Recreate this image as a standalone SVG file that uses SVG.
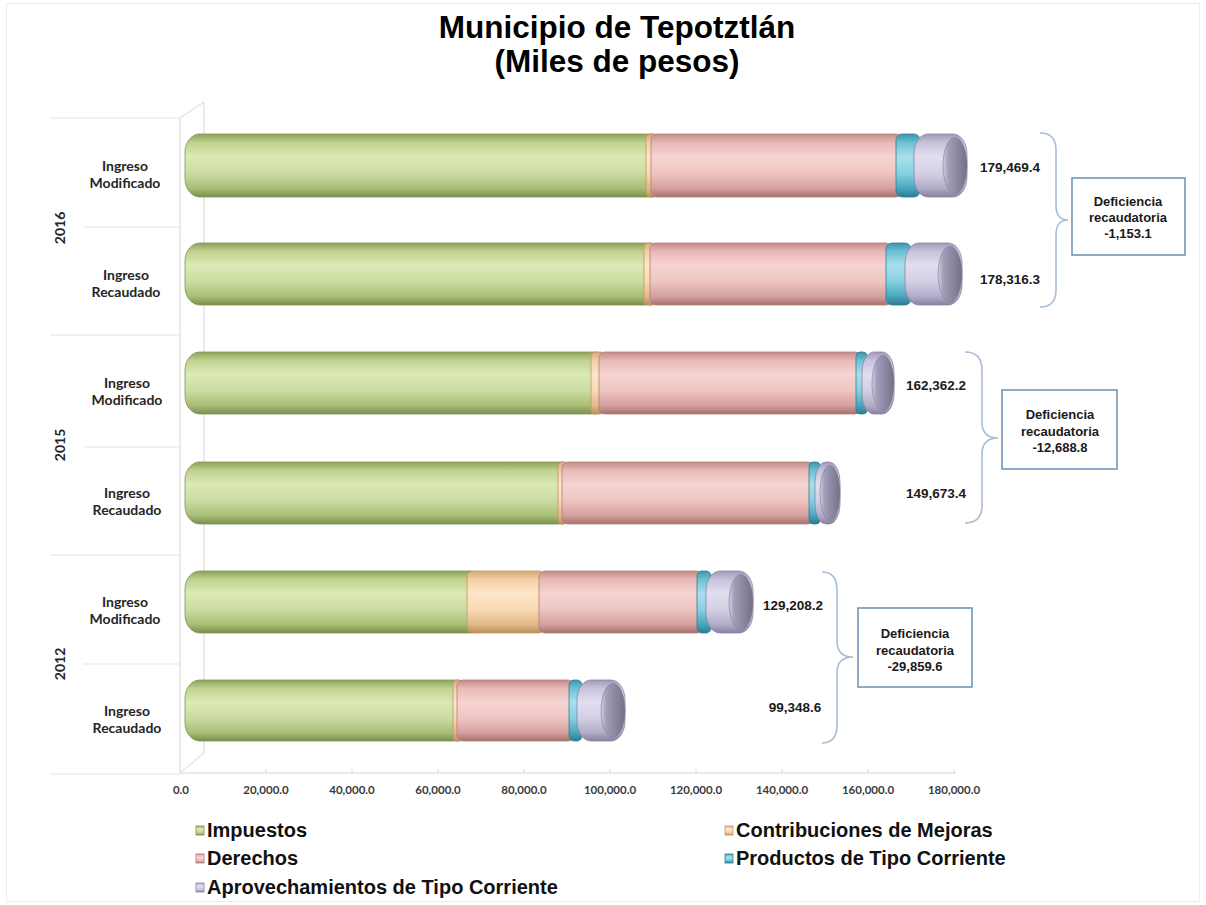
<svg xmlns="http://www.w3.org/2000/svg" width="1206" height="905" viewBox="0 0 1206 905">
<defs>
<linearGradient id="gGreen" x1="0" y1="0" x2="0" y2="1">
<stop offset="0" stop-color="#8ea25c"/><stop offset="0.14" stop-color="#c0d390"/><stop offset="0.36" stop-color="#dce9b6"/><stop offset="0.62" stop-color="#cbdca1"/><stop offset="0.86" stop-color="#a9be77"/><stop offset="1" stop-color="#7a8f4e"/>
</linearGradient>
<linearGradient id="gTan" x1="0" y1="0" x2="0" y2="1">
<stop offset="0" stop-color="#d3a875"/><stop offset="0.14" stop-color="#f3d0a5"/><stop offset="0.36" stop-color="#fde6c8"/><stop offset="0.62" stop-color="#f8d9b3"/><stop offset="0.86" stop-color="#e2b988"/><stop offset="1" stop-color="#bb8f5c"/>
</linearGradient>
<linearGradient id="gPink" x1="0" y1="0" x2="0" y2="1">
<stop offset="0" stop-color="#c28d8a"/><stop offset="0.14" stop-color="#e8b9b6"/><stop offset="0.36" stop-color="#f6d4d2"/><stop offset="0.62" stop-color="#efc5c2"/><stop offset="0.86" stop-color="#d5a19e"/><stop offset="1" stop-color="#a6706e"/>
</linearGradient>
<linearGradient id="gCyan" x1="0" y1="0" x2="0" y2="1">
<stop offset="0" stop-color="#3b96ae"/><stop offset="0.14" stop-color="#6fc0d5"/><stop offset="0.36" stop-color="#a9e0ec"/><stop offset="0.62" stop-color="#88d0e1"/><stop offset="0.86" stop-color="#4aa6bf"/><stop offset="1" stop-color="#2d7b91"/>
</linearGradient>
<linearGradient id="gLav" x1="0" y1="0" x2="0" y2="1">
<stop offset="0" stop-color="#a09ab8"/><stop offset="0.14" stop-color="#c8c2db"/><stop offset="0.36" stop-color="#e2def0"/><stop offset="0.62" stop-color="#d4cfe5"/><stop offset="0.86" stop-color="#b3acc8"/><stop offset="1" stop-color="#88829f"/>
</linearGradient>
<linearGradient id="gFace" x1="0" y1="0" x2="1" y2="0">
<stop offset="0" stop-color="#d2cee3"/><stop offset="0.22" stop-color="#a29db8"/><stop offset="1" stop-color="#747089"/>
</linearGradient>
<style>
.seg{stroke-width:0.8}
.green{fill:url(#gGreen);stroke:#7f944f}
.tan{fill:url(#gTan);stroke:#c29666}
.pink{fill:url(#gPink);stroke:#b07d7a}
.cyan{fill:url(#gCyan);stroke:#2f7f95}
.lav{fill:url(#gLav);stroke:#8a84a2}
.face{fill:url(#gFace);stroke:#7d7894;stroke-width:0.6}
.grid{stroke:#e3e3e3;stroke-width:1;fill:none}
.wall{stroke:#d6d6d6;stroke-width:1;fill:none}
.cat{font-family:Lato,"Liberation Sans",sans-serif;font-weight:bold;font-size:14px;fill:#262626;text-anchor:middle}
.axis{font-family:Lato,"Liberation Sans",sans-serif;font-weight:bold;font-size:11.5px;fill:#3a3a3a;text-anchor:middle}
.val{font-family:"Liberation Sans",Arial,sans-serif;font-weight:bold;font-size:13.5px;fill:#1a1a1a;text-anchor:middle}
.box{fill:#ffffff;stroke:#7496b9;stroke-width:1.6}
.boxt{font-family:"Liberation Sans",Arial,sans-serif;font-weight:bold;font-size:13px;fill:#1a1a1a;text-anchor:middle}
.brace{fill:none;stroke:#a9bdd4;stroke-width:1.6}
.leg{font-family:"Liberation Sans",Arial,sans-serif;font-weight:bold;font-size:20px;fill:#111111}
.title{font-family:"Liberation Sans",Arial,sans-serif;font-weight:bold;font-size:31.5px;fill:#000000;text-anchor:middle}
</style>
</defs>
<rect x="0" y="0" width="1206" height="905" fill="#ffffff"/>
<rect x="6.5" y="3.5" width="1193" height="898" fill="none" stroke="#ececec" stroke-width="1"/>

<g id="title">
<text class="title" x="617" y="38">Municipio de Tepotztlán</text>
<text class="title" x="617" y="72">(Miles de pesos)</text>
</g>

<g id="axes">
<line class="wall" x1="180" y1="118" x2="180" y2="773"/>
<line class="wall" x1="204" y1="102" x2="204" y2="753"/>
<line class="wall" x1="180" y1="118" x2="204" y2="102"/>
<line class="wall" x1="180" y1="773" x2="204" y2="753"/>
<line class="wall" x1="180" y1="773" x2="956" y2="773"/>
<line class="grid" x1="50" y1="118" x2="180" y2="118"/>
<line class="grid" x1="83" y1="227" x2="180" y2="227"/>
<line class="grid" x1="50" y1="335" x2="180" y2="335"/>
<line class="grid" x1="85" y1="447" x2="180" y2="447"/>
<line class="grid" x1="50" y1="555" x2="180" y2="555"/>
<line class="grid" x1="83" y1="664" x2="180" y2="664"/>
<line class="grid" x1="50" y1="774" x2="180" y2="774"/>
<g class="wall">
<line x1="266" y1="769" x2="266" y2="773"/><line x1="352" y1="769" x2="352" y2="773"/><line x1="438" y1="769" x2="438" y2="773"/><line x1="524" y1="769" x2="524" y2="773"/><line x1="610" y1="769" x2="610" y2="773"/><line x1="696" y1="769" x2="696" y2="773"/><line x1="782" y1="769" x2="782" y2="773"/><line x1="868" y1="769" x2="868" y2="773"/><line x1="954" y1="769" x2="954" y2="773"/>
</g>
<text class="axis" x="181" y="794">0.0</text>
<text class="axis" x="266" y="794">20,000.0</text>
<text class="axis" x="352" y="794">40,000.0</text>
<text class="axis" x="438" y="794">60,000.0</text>
<text class="axis" x="524" y="794">80,000.0</text>
<text class="axis" x="610" y="794">100,000.0</text>
<text class="axis" x="696" y="794">120,000.0</text>
<text class="axis" x="782" y="794">140,000.0</text>
<text class="axis" x="868" y="794">160,000.0</text>
<text class="axis" x="954" y="794">180,000.0</text>
</g>

<g id="category-labels">
<text class="cat" transform="translate(65,228) rotate(-90)">2016</text>
<text class="cat" transform="translate(65,445) rotate(-90)">2015</text>
<text class="cat" transform="translate(65,664) rotate(-90)">2012</text>
<text class="cat" x="125" y="170.5">Ingreso</text><text class="cat" x="125" y="187.5">Modificado</text>
<text class="cat" x="126" y="279.5">Ingreso</text><text class="cat" x="126" y="296.5">Recaudado</text>
<text class="cat" x="127" y="387.5">Ingreso</text><text class="cat" x="127" y="404.5">Modificado</text>
<text class="cat" x="127" y="497.5">Ingreso</text><text class="cat" x="127" y="514.5">Recaudado</text>
<text class="cat" x="125" y="606.5">Ingreso</text><text class="cat" x="125" y="623.5">Modificado</text>
<text class="cat" x="127" y="715.5">Ingreso</text><text class="cat" x="127" y="732.5">Recaudado</text>
</g>

<g id="bar-2016-modificado">
<path class="seg green" d="M200,134 H654 V197 H200 A15,18 0 0 1 185,179 V152 A15,18 0 0 1 200,134 Z"/>
<rect class="seg tan" x="646" y="134" width="12" height="63" rx="4"/>
<rect class="seg pink" x="651" y="134" width="251" height="63" rx="6"/>
<rect class="seg cyan" x="896" y="134" width="24" height="63" rx="6"/>
<rect class="seg lav" x="914" y="134" width="53" height="63" rx="14" ry="20"/>
<ellipse class="face" cx="955" cy="165.5" rx="12" ry="28"/>
</g>
<g id="bar-2016-recaudado">
<path class="seg green" d="M200,243 H652 V305 H200 A15,18 0 0 1 185,287 V261 A15,18 0 0 1 200,243 Z"/>
<rect class="seg tan" x="644" y="243" width="12" height="62" rx="4"/>
<rect class="seg pink" x="650" y="243" width="242" height="62" rx="6"/>
<rect class="seg cyan" x="886" y="243" width="25" height="62" rx="6"/>
<rect class="seg lav" x="905" y="243" width="57" height="62" rx="14" ry="20"/>
<ellipse class="face" cx="950" cy="274" rx="12" ry="27.5"/>
</g>
<g id="bar-2015-modificado">
<path class="seg green" d="M200,352 H597 V414 H200 A15,18 0 0 1 185,396 V370 A15,18 0 0 1 200,352 Z"/>
<rect class="seg tan" x="591" y="352" width="14" height="62" rx="4"/>
<rect class="seg pink" x="599" y="352" width="262" height="62" rx="6"/>
<rect class="seg cyan" x="856" y="352" width="11" height="62" rx="4"/>
<rect class="seg lav" x="862" y="352" width="32" height="62" rx="12" ry="20"/>
<ellipse class="face" cx="883" cy="383" rx="11" ry="27.5"/>
</g>
<g id="bar-2015-recaudado">
<path class="seg green" d="M200,462 H564 V524 H200 A15,18 0 0 1 185,506 V480 A15,18 0 0 1 200,462 Z"/>
<rect class="seg tan" x="558" y="462" width="10" height="62" rx="4"/>
<rect class="seg pink" x="562" y="462" width="252" height="62" rx="6"/>
<rect class="seg cyan" x="809" y="462" width="11" height="62" rx="4"/>
<rect class="seg lav" x="815" y="462" width="25" height="62" rx="11" ry="20"/>
<ellipse class="face" cx="830" cy="493" rx="10" ry="27.5"/>
</g>
<g id="bar-2012-modificado">
<path class="seg green" d="M200,571 H473 V633 H200 A15,18 0 0 1 185,615 V589 A15,18 0 0 1 200,571 Z"/>
<rect class="seg tan" x="467" y="571" width="78" height="62" rx="6"/>
<rect class="seg pink" x="539" y="571" width="164" height="62" rx="6"/>
<rect class="seg cyan" x="697" y="571" width="14" height="62" rx="5"/>
<rect class="seg lav" x="706" y="571" width="47" height="62" rx="14" ry="20"/>
<ellipse class="face" cx="741" cy="602" rx="12" ry="27.5"/>
</g>
<g id="bar-2012-recaudado">
<path class="seg green" d="M200,680 H459 V741 H200 A15,18 0 0 1 185,723 V698 A15,18 0 0 1 200,680 Z"/>
<rect class="seg tan" x="453" y="680" width="10" height="61" rx="4"/>
<rect class="seg pink" x="457" y="680" width="117" height="61" rx="6"/>
<rect class="seg cyan" x="569" y="680" width="13" height="61" rx="5"/>
<rect class="seg lav" x="577" y="680" width="48" height="61" rx="14" ry="20"/>
<ellipse class="face" cx="613" cy="710.5" rx="12" ry="27"/>
</g>

<g id="value-labels">
<text class="val" x="1010" y="171.5">179,469.4</text>
<text class="val" x="1010" y="283.5">178,316.3</text>
<text class="val" x="936" y="389.5">162,362.2</text>
<text class="val" x="936" y="497.5">149,673.4</text>
<text class="val" x="793" y="609.5">129,208.2</text>
<text class="val" x="795" y="711.5">99,348.6</text>
</g>

<g id="connectors">
<path class="brace" d="M1040,133 Q1056,133 1056,150 L1056,205 Q1056,220 1068,220 Q1056,220 1056,235 L1056,290 Q1056,307 1040,307"/>
<path class="brace" d="M965,352 Q982,352 982,370 L982,422 Q982,438 998,438 Q982,438 982,454 L982,505 Q982,523 965,523"/>
<path class="brace" d="M822,572 Q837,572 837,590 L837,641 Q837,657 853,657 Q837,657 837,673 L837,725 Q837,743 822,743"/>
</g>

<g id="callout-2016">
<rect class="box" x="1072" y="178" width="113" height="77"/>
<text class="boxt" x="1128" y="206">Deficiencia</text>
<text class="boxt" x="1128" y="222">recaudatoria</text>
<text class="boxt" x="1128" y="238">-1,153.1</text>
</g>
<g id="callout-2015">
<rect class="box" x="1002" y="390" width="115" height="79"/>
<text class="boxt" x="1060" y="419">Deficiencia</text>
<text class="boxt" x="1060" y="435.5">recaudatoria</text>
<text class="boxt" x="1060" y="452">-12,688.8</text>
</g>
<g id="callout-2012">
<rect class="box" x="858" y="608" width="114" height="79"/>
<text class="boxt" x="915" y="638">Deficiencia</text>
<text class="boxt" x="915" y="654.5">recaudatoria</text>
<text class="boxt" x="915" y="671">-29,859.6</text>
</g>

<g id="legend">
<g id="legend-impuestos"><rect class="seg green" x="196" y="826" width="8" height="9"/><text class="leg" x="207" y="837">Impuestos</text></g>
<g id="legend-contribuciones"><rect class="seg tan" x="725" y="826" width="8" height="9"/><text class="leg" x="736" y="837">Contribuciones de Mejoras</text></g>
<g id="legend-derechos"><rect class="seg pink" x="196" y="854" width="8" height="9"/><text class="leg" x="207" y="865">Derechos</text></g>
<g id="legend-productos"><rect class="seg cyan" x="725" y="854" width="8" height="9"/><text class="leg" x="736" y="865">Productos de Tipo Corriente</text></g>
<g id="legend-aprovechamientos"><rect class="seg lav" x="196" y="883" width="8" height="9"/><text class="leg" x="207" y="894">Aprovechamientos de Tipo Corriente</text></g>
</g>
</svg>
